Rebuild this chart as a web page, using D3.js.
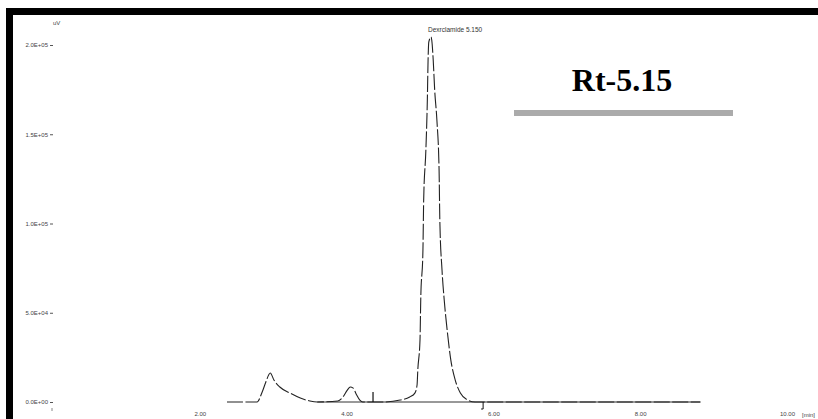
<!DOCTYPE html>
<html>
<head>
<meta charset="utf-8">
<script src="https://cdn.jsdelivr.net/npm/d3@7"></script>
<style>
  body { margin: 0; background: #fff; }
  svg { display: block; }
  .tick text { font-family: "Liberation Sans", Arial, sans-serif; font-size: 6px; fill: #444; }
</style>
</head>
<body>
<svg id="chart" width="818" height="419"></svg>
<script>
// chromatogram trace (minutes, uV)
var times = [2.37, 2.64, 2.78, 2.85, 2.90, 2.96, 3.01, 3.09, 3.23, 3.37, 3.50, 3.60,
             3.88, 3.95, 4.01, 4.05, 4.09, 4.13, 4.18, 4.22, 4.50, 4.73, 4.86, 4.93,
             4.96, 4.97, 5.00, 5.01, 5.04, 5.05, 5.08, 5.10, 5.11, 5.12, 5.15, 5.16,
             5.18, 5.20, 5.23, 5.26, 5.27, 5.30, 5.33, 5.37, 5.42, 5.48, 5.55, 5.65,
             5.75, 8.82];
var signal = [0, 0, 0, 5600, 11200, 16250, 12300, 8400, 5000, 2200, 560, 0,
              560, 2800, 6700, 8400, 7800, 4500, 1100, 0, 0, 1100, 2800, 5000,
              9500, 17900, 34700, 57100, 85100, 113200, 141200, 169200, 191600, 201700, 204500, 202800,
              191600, 174800, 158000, 130000, 102000, 73900, 57100, 40300, 23500, 12300, 5000, 1100,
              0, 0];

var yTicks = [200000, 150000, 100000, 50000, 0];
var yTickLabels = ["2.0E+05", "1.5E+05", "1.0E+05", "5.0E+04", "0.0E+00"];
var xTicks = [2, 4, 6, 8, 10];
var xTickLabels = ["2.00", "4.00", "6.00", "8.00", "10.00"];

var peakName = "Dexrclamide 5.150";
var peakTime = 5.15;
var eventMarks = [4.36, 5.86];
var baselineRange = [3.60, 8.82];

var svg = d3.select("#chart");

// scan border
svg.append("rect").attr("x", 6).attr("y", 8).attr("width", 812).attr("height", 7).attr("fill", "#000");
svg.append("rect").attr("x", 6).attr("y", 8).attr("width", 7).attr("height", 411).attr("fill", "#000");

var x = d3.scaleLinear().domain([0, 10]).range([53, 787]);
var y = d3.scaleLinear().domain([0, 200000]).range([402, 45]);

svg.append("g")
    .attr("transform", "translate(53,0)")
    .call(d3.axisLeft(y).tickValues(yTicks).tickSize(3).tickPadding(2)
      .tickFormat(function(d, i) { return yTickLabels[i]; }))
    .call(function(g) { g.select(".domain").remove(); })
    .call(function(g) { g.selectAll(".tick line").attr("stroke", "#555"); });

svg.append("g")
    .attr("transform", "translate(0,410)")
    .call(d3.axisBottom(x).tickValues(xTicks).tickSize(0).tickPadding(2)
      .tickFormat(function(d, i) { return xTickLabels[i]; }))
    .call(function(g) { g.select(".domain").remove(); });

// small tick at time 0
svg.append("line")
    .attr("x1", x(0) - 1).attr("x2", x(0) - 1)
    .attr("y1", 408).attr("y2", 411)
    .attr("stroke", "#888");

svg.append("text")
    .attr("x", 802).attr("y", 417)
    .attr("font-family", "Liberation Sans, Arial, sans-serif")
    .attr("font-size", 6).attr("fill", "#444")
    .text("[min]");

svg.append("text")
    .attr("x", 53).attr("y", 25)
    .attr("font-family", "Liberation Sans, Arial, sans-serif")
    .attr("font-size", 6).attr("fill", "#444")
    .text("uV");

// integration baseline
svg.append("line")
    .attr("x1", x(baselineRange[0])).attr("x2", x(baselineRange[1]))
    .attr("y1", y(0)).attr("y2", y(0))
    .attr("stroke", "#333").attr("stroke-width", 1);

var line = d3.line()
    .x(function(d, i) { return x(times[i]); })
    .y(function(d) { return y(d); })
    .curve(d3.curveMonotoneX);

svg.append("path")
    .datum(signal)
    .attr("fill", "none")
    .attr("stroke", "#222")
    .attr("stroke-width", 1.1)
    .attr("stroke-dasharray", "16,2.5")
    .attr("d", line);

// event marks
svg.append("line")
    .attr("x1", x(eventMarks[0])).attr("x2", x(eventMarks[0]))
    .attr("y1", y(0)).attr("y2", y(5600))
    .attr("stroke", "#111").attr("stroke-width", 1.2);
svg.append("path")
    .attr("d", "M" + x(eventMarks[1]) + "," + y(0) + "V" + (y(0) + 7) + "h-2")
    .attr("fill", "none").attr("stroke", "#111").attr("stroke-width", 1);

svg.append("text")
    .attr("x", x(peakTime) - 3).attr("y", 32)
    .attr("font-family", "Liberation Sans, Arial, sans-serif")
    .attr("font-size", 6.5).attr("fill", "#333")
    .text(peakName);

// annotation
svg.append("text")
    .attr("x", 622).attr("y", 91)
    .attr("text-anchor", "middle")
    .attr("font-family", "Liberation Serif, Times New Roman, serif")
    .attr("font-weight", "bold")
    .attr("font-size", 32)
    .attr("fill", "#000")
    .text("Rt-5.15");

svg.append("rect")
    .attr("x", 514).attr("y", 110)
    .attr("width", 219).attr("height", 6)
    .attr("fill", "#ababab");
</script>
</body>
</html>
